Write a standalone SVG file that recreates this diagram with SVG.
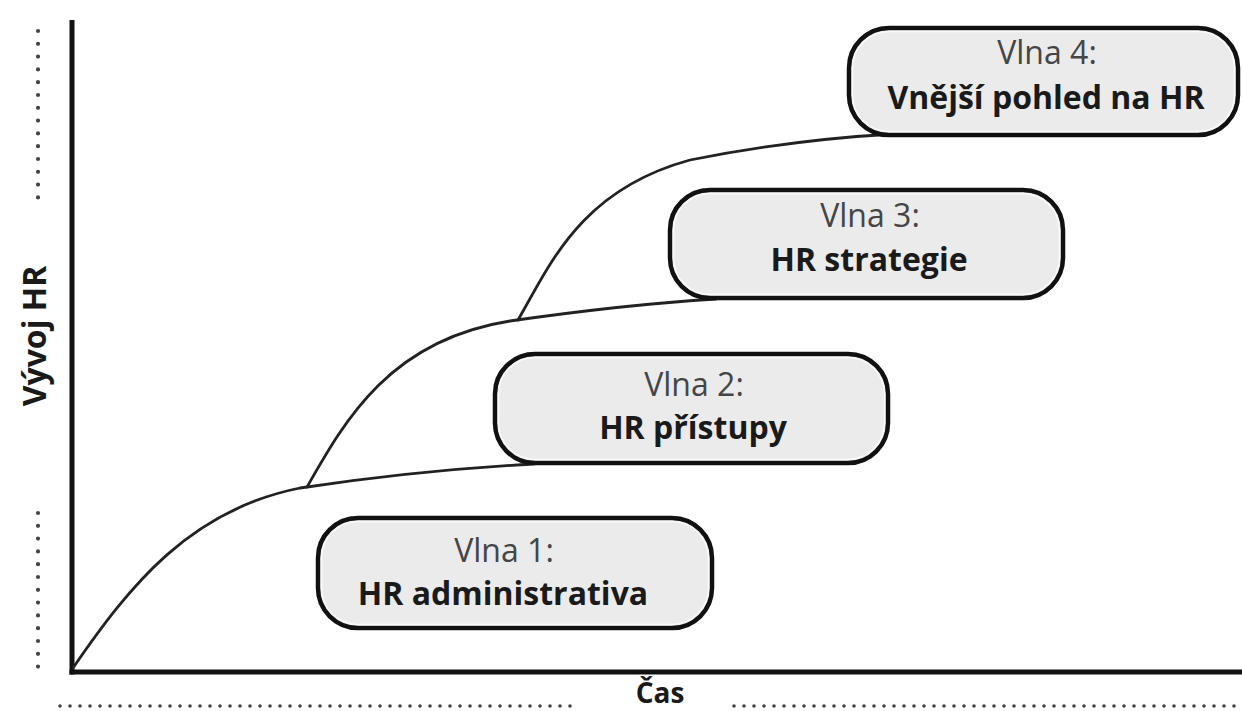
<svg xmlns="http://www.w3.org/2000/svg" width="1242" height="711" viewBox="0 0 1242 711">
  <style>
    .box { fill: #ebebeb; stroke: #111; stroke-width: 4.5; }
    .hl { fill: none; stroke: #fafafa; stroke-width: 1.5; }
    .t1 { font-family: "Open Sans", "Liberation Sans", sans-serif; font-size: 32px; fill: #454545; text-anchor: middle; }
    .t2 { font-family: "Open Sans", "Liberation Sans", sans-serif; font-size: 32px; font-weight: bold; fill: #1a1a1a; text-anchor: middle; }
    .axlbl { font-family: "Open Sans", "Liberation Sans", sans-serif; font-size: 32px; font-weight: bold; fill: #1a1a1a; text-anchor: middle; }
    .curve { fill: none; stroke: #222; stroke-width: 2.8; stroke-linecap: round; }
    .axis { fill: none; stroke: #111; stroke-width: 5; }
    .vdots { fill: none; stroke: #444; stroke-width: 4.2; stroke-linecap: round; stroke-dasharray: 0 12.8; }
    .hdots { fill: none; stroke: #444; stroke-width: 3.6; stroke-linecap: round; stroke-dasharray: 0 10; }
  </style>

  <g id="axes">
    <line class="axis" x1="72" y1="20" x2="72" y2="674.5"/>
    <line class="axis" x1="69.5" y1="672" x2="1242" y2="672"/>
    <line class="vdots" x1="38" y1="31" x2="38" y2="200"/>
    <line class="vdots" x1="38" y1="513" x2="38" y2="668"/>
    <line class="hdots" x1="60" y1="706" x2="576" y2="706"/>
    <line class="hdots" x1="734" y1="706" x2="1242" y2="706"/>
    <text class="axlbl" transform="translate(46,336) rotate(-90)">Vývoj HR</text>
    <text class="axlbl" x="660" y="703" style="font-size:28px">Čas</text>
  </g>

  <g id="connectors">
    <path class="curve" d="M73,668 C130,585 190,510 300,488 C380,476 460,468 534,464"/>
    <path class="curve" d="M307,487 C345,420 390,340 510,321 C580,311 650,303 716,299"/>
    <path class="curve" d="M518,320 C550,265 580,190 690,160 C770,144 840,137 894,134"/>
  </g>

  <g id="wave1">
    <rect class="box" x="318" y="518" width="394" height="110" rx="40" ry="40"/>
    <rect class="hl" x="321.5" y="521.5" width="387" height="103" rx="36.5" ry="36.5"/>
    <text class="t1" x="504" y="562">Vlna 1:</text>
    <text class="t2" x="503" y="605">HR administrativa</text>
  </g>

  <g id="wave2">
    <rect class="box" x="495" y="354" width="393" height="109" rx="40" ry="40"/>
    <rect class="hl" x="498.5" y="357.5" width="386" height="102" rx="36.5" ry="36.5"/>
    <text class="t1" x="694" y="396">Vlna 2:</text>
    <text class="t2" x="693" y="439">HR přístupy</text>
  </g>

  <g id="wave3">
    <rect class="box" x="670" y="190" width="393" height="108" rx="40" ry="40"/>
    <rect class="hl" x="673.5" y="193.5" width="386" height="101" rx="36.5" ry="36.5"/>
    <text class="t1" x="870" y="227">Vlna 3:</text>
    <text class="t2" x="869" y="271">HR strategie</text>
  </g>

  <g id="wave4">
    <rect class="box" x="849" y="28" width="389" height="107" rx="40" ry="40"/>
    <rect class="hl" x="852.5" y="31.5" width="382" height="100" rx="36.5" ry="36.5"/>
    <text class="t1" x="1047" y="64">Vlna 4:</text>
    <text class="t2" x="1046" y="109">Vnější pohled na HR</text>
  </g>
</svg>
